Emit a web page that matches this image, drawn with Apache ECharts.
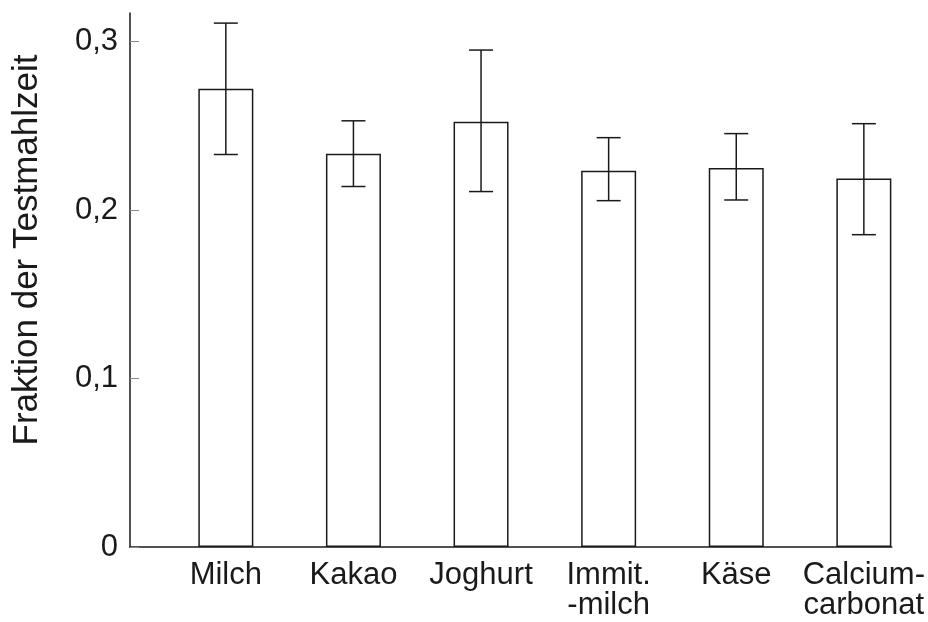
<!DOCTYPE html>
<html>
<head>
<meta charset="utf-8">
<script src="https://cdn.jsdelivr.net/npm/echarts@6/dist/echarts.min.js"></script>
<style>
html,body{margin:0;padding:0;background:#fff;}
#chart{width:928px;height:622px;}
</style>
</head>
<body>
<div id="chart"></div>
<script>
const categories = ['Milch', 'Kakao', 'Joghurt', 'Immit.\n-milch', 'Käse', 'Calcium-\ncarbonat'];
const means = [0.272, 0.2335, 0.2525, 0.2234, 0.225, 0.2187];
const errLow = [0.233, 0.214, 0.211, 0.2056, 0.206, 0.1854];
const errHigh = [0.311, 0.253, 0.295, 0.243, 0.2454, 0.2513];
const yTicks = [0, 0.1, 0.2, 0.3];
const yTitle = 'Fraktion der Testmahlzeit';

const FONT = '"Liberation Sans", Arial, sans-serif';
const INK = '#1a1a1a';

const chart = echarts.init(document.getElementById('chart'), null, {renderer: 'canvas'});

const barData = means.map((v, i) => [i, v]);
const errData = means.map((v, i) => [i, errLow[i], errHigh[i]]);

chart.setOption({
  backgroundColor: '#fff',
  animation: false,
  grid: {left: 130, right: 35, top: 13, bottom: 75, containLabel: false},
  xAxis: {
    type: 'value',
    min: -0.751,
    max: 5.219,
    splitLine: {show: false},
    axisTick: {show: false},
    axisLine: {show: true, onZero: false, lineStyle: {color: INK, width: 1.5}},
    axisLabel: {
      customValues: [0, 1, 2, 3, 4, 5],
      formatter: v => categories[Math.round(v)],
      color: INK,
      fontFamily: FONT,
      fontSize: 31,
      lineHeight: 30,
      margin: 13,
      align: 'center'
    }
  },
  yAxis: {
    type: 'value',
    min: 0,
    max: 0.317,
    splitLine: {show: false},
    axisLine: {show: true, onZero: false, lineStyle: {color: INK, width: 1.5}},
    axisTick: {
      show: true,
      inside: true,
      length: 9,
      customValues: yTicks,
      lineStyle: {color: '#888', width: 1}
    },
    axisLabel: {
      customValues: yTicks,
      formatter: v => (v === 0 ? '0' : v.toFixed(1).replace('.', ',')),
      color: INK,
      fontFamily: FONT,
      fontSize: 31,
      margin: 12
    },
    name: yTitle,
    nameLocation: 'middle',
    nameGap: 85,
    nameTextStyle: {
      color: INK,
      fontFamily: FONT,
      fontSize: 35,
      padding: [0, 0, 0, 60]
    }
  },
  series: [
    {
      type: 'bar',
      data: barData,
      barWidth: 55,
      itemStyle: {color: '#fff', borderColor: INK, borderWidth: 1.5},
      z: 2
    },
    {
      type: 'custom',
      data: errData,
      z: 3,
      renderItem: function (params, api) {
        const x = api.value(0);
        const lo = api.coord([x, api.value(1)]);
        const hi = api.coord([x, api.value(2)]);
        const cap = 12;
        const style = {stroke: INK, lineWidth: 1.5, fill: null};
        return {
          type: 'group',
          children: [
            {type: 'line', shape: {x1: lo[0], y1: lo[1], x2: hi[0], y2: hi[1]}, style: style},
            {type: 'line', shape: {x1: lo[0] - cap, y1: lo[1], x2: lo[0] + cap, y2: lo[1]}, style: style},
            {type: 'line', shape: {x1: hi[0] - cap, y1: hi[1], x2: hi[0] + cap, y2: hi[1]}, style: style}
          ]
        };
      }
    }
  ]
});
</script>
</body>
</html>
